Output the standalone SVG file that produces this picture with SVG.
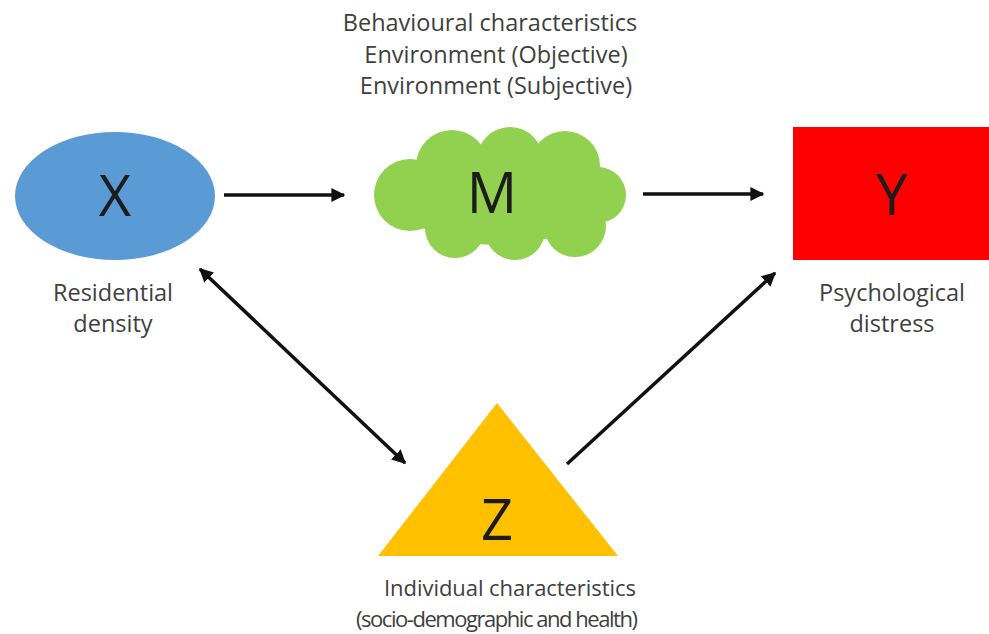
<svg xmlns="http://www.w3.org/2000/svg" width="989" height="634" viewBox="0 0 989 634">
<style>
.lbl{font-family:"Open Sans","Noto Sans","DejaVu Sans",sans-serif;font-size:23.5px;fill:#3f3f3f;text-anchor:middle}
.lbl2{font-family:"Open Sans","Noto Sans","DejaVu Sans",sans-serif;font-size:22px;fill:#3f3f3f;text-anchor:middle}
.big{font-family:"Open Sans","Noto Sans","Liberation Sans",sans-serif;font-size:56px;fill:#1c1c1c;text-anchor:middle}
.conn{stroke:#111;stroke-width:3.5;fill:none}
</style>
<defs>
<marker id="ah" viewBox="0 0 10 10" refX="9" refY="5" markerWidth="4" markerHeight="4" orient="auto-start-reverse" markerUnits="strokeWidth">
<path d="M0,0 L10,5 L0,10 z" fill="#111"/>
</marker>
</defs>
<rect width="989" height="634" fill="#fff"/>
<g id="mediators-label">
<text class="lbl" x="490" y="31">Behavioural characteristics</text>
<text class="lbl" x="496" y="63">Environment (Objective)</text>
<text class="lbl" x="496" y="94">Environment (Subjective)</text>
</g>
<g id="node-X">
<ellipse cx="115" cy="196" rx="100" ry="64" fill="#5B9BD5"/>
<text class="big" x="115" y="216">X</text>
<text class="lbl" x="113" y="301">Residential</text>
<text class="lbl" x="113" y="332">density</text>
</g>
<g id="node-M">
<g fill="#92D050">
<circle cx="410" cy="195" r="36"/>
<circle cx="452" cy="166" r="36"/>
<circle cx="510" cy="160" r="33"/>
<circle cx="565" cy="166" r="35"/>
<circle cx="598" cy="195" r="28"/>
<circle cx="575" cy="226" r="31"/>
<circle cx="515" cy="230" r="30"/>
<circle cx="455" cy="228" r="30"/>
<ellipse cx="498" cy="195" rx="100" ry="50"/>
</g>
<text class="big" x="492" y="213">M</text>
</g>
<g id="node-Y">
<rect x="793" y="127" width="196" height="133" fill="#FF0000"/>
<text class="big" x="892" y="215">Y</text>
<text class="lbl" x="892" y="301">Psychological</text>
<text class="lbl" x="892" y="332">distress</text>
</g>
<g id="node-Z">
<polygon points="497,403 618,556 378,556" fill="#FFC000"/>
<text class="big" x="497" y="540">Z</text>
<text class="lbl2" x="510" y="596" textLength="252" lengthAdjust="spacing">Individual characteristics</text>
<text class="lbl2" x="497" y="627" textLength="282" lengthAdjust="spacing">(socio-demographic and health)</text>
</g>
<g id="connectors">
<line class="conn" x1="224" y1="195" x2="344" y2="195" marker-end="url(#ah)"/>
<line class="conn" x1="643" y1="194" x2="763" y2="194" marker-end="url(#ah)"/>
<line class="conn" x1="200" y1="269" x2="405" y2="463" marker-start="url(#ah)" marker-end="url(#ah)"/>
<line class="conn" x1="567" y1="464" x2="775" y2="273" marker-end="url(#ah)"/>
</g>
</svg>
